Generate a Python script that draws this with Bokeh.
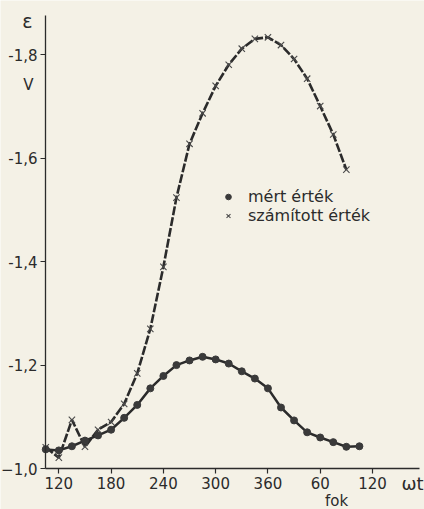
from bokeh.plotting import figure
from bokeh.models import Range1d, FixedTicker, Label, Legend, LegendItem, ColumnDataSource
from bokeh.embed import file_html
from bokeh.resources import INLINE

# phase angle (degrees, continuous; 420 -> "60", 480 -> "120")
angle_measured = [105, 120, 135, 150, 165, 180, 195, 210, 225, 240, 255, 270, 285, 300,
                  315, 330, 345, 360, 375, 390, 405, 420, 435, 450, 465]
eps_measured = [-1.037, -1.035, -1.043, -1.054, -1.064, -1.075, -1.098, -1.123, -1.155, -1.179,
                -1.200, -1.209, -1.216, -1.211, -1.203, -1.188, -1.174, -1.155, -1.118, -1.093,
                -1.070, -1.060, -1.051, -1.042, -1.043]

angle_calc = [105, 120, 135, 150, 165, 180, 195, 210, 225, 240, 255, 270, 285, 300,
              315, 330, 345, 360, 375, 390, 405, 420, 435, 450]
eps_calc = [-1.041, -1.021, -1.094, -1.042, -1.075, -1.090, -1.125, -1.184, -1.270, -1.390,
            -1.524, -1.628, -1.687, -1.740, -1.781, -1.812, -1.831, -1.834, -1.819, -1.792,
            -1.754, -1.701, -1.646, -1.578]

x_ticks = [120, 180, 240, 300, 360, 420, 480]
x_tick_labels = ["120", "180", "240", "300", "360", "60", "120"]
y_ticks = [-1.8, -1.6, -1.4, -1.2, -1.0]
y_tick_labels = ["-1,8", "-1,6", "-1,4", "-1,2", "\u22121,0"]

# axis extents (data units)
x_axis_start, x_axis_end = 104.7, 534.0
y_axis_bottom, y_axis_top = -1.0, -1.876

BG = "#f4f1e6"
INK = "#2b2b2b"
FONT = "DejaVu Sans"

p = figure(width=424, height=509, output_backend="svg", toolbar_location=None,
           x_range=Range1d(53.05, 539.7), y_range=Range1d(-0.9207, -1.9052),
           min_border=0)
p.background_fill_color = BG
p.border_fill_color = BG
p.outline_line_color = None
p.grid.visible = False

p.xaxis.fixed_location = y_axis_bottom
p.yaxis.fixed_location = x_axis_start
p.xaxis.bounds = (x_axis_start, x_axis_end)
p.yaxis.bounds = (y_axis_top, y_axis_bottom)

for ax in (p.xaxis[0], p.yaxis[0]):
    ax.axis_line_color = INK
    ax.axis_line_width = 1.3
    ax.major_tick_line_color = INK
    ax.major_tick_line_width = 1.2
    ax.major_tick_out = 5
    ax.major_tick_in = 0
    ax.minor_tick_line_color = None
    ax.major_label_text_font = FONT
    ax.major_label_text_font_size = "15px"
    ax.major_label_text_color = INK
    ax.major_label_standoff = 3

p.xaxis.ticker = FixedTicker(ticks=x_ticks)
p.xaxis.major_label_overrides = {t: l for t, l in zip(x_ticks, x_tick_labels)}
p.yaxis.ticker = FixedTicker(ticks=y_ticks)
p.yaxis.major_label_overrides = {t: l for t, l in zip(y_ticks, y_tick_labels)}

src_m = ColumnDataSource(dict(x=angle_measured, y=eps_measured))
src_c = ColumnDataSource(dict(x=angle_calc, y=eps_calc))

p.line("x", "y", source=src_c, line_color=INK, line_width=2.6, line_dash="9 2")
xs = p.scatter("x", "y", source=src_c, marker="x", size=9, line_color="#4a4a4a", line_width=1.1)

p.line("x", "y", source=src_m, line_color=INK, line_width=2.5)
dots = p.scatter("x", "y", source=src_m, marker="circle", size=7, fill_color="#3a3a3a",
                 line_color="#3a3a3a")

legend = Legend(items=[LegendItem(label="mért érték", renderers=[dots]),
                       LegendItem(label="számított érték", renderers=[xs])],
                location=(221, 284.5), padding=0, margin=0, spacing=0,
                glyph_width=14, glyph_height=19, label_height=19, label_standoff=13,
                border_line_color=None, background_fill_alpha=0,
                label_text_font=FONT, label_text_font_size="16px", label_text_color=INK)
p.add_layout(legend)

for txt, cx, cy, size in [("\u03b5", 27, 20, "19px"), ("V", 28, 84, "15px"),
                          ("fok", 336, 500, "15px"), ("\u03c9t", 412, 483, "18px")]:
    p.add_layout(Label(x=cx, y=cy, x_units="canvas", y_units="canvas", text=txt,
                       text_align="center", text_baseline="middle", text_font=FONT,
                       text_font_size=size, text_color=INK))

open("out.html", "w").write(file_html(p, INLINE))
